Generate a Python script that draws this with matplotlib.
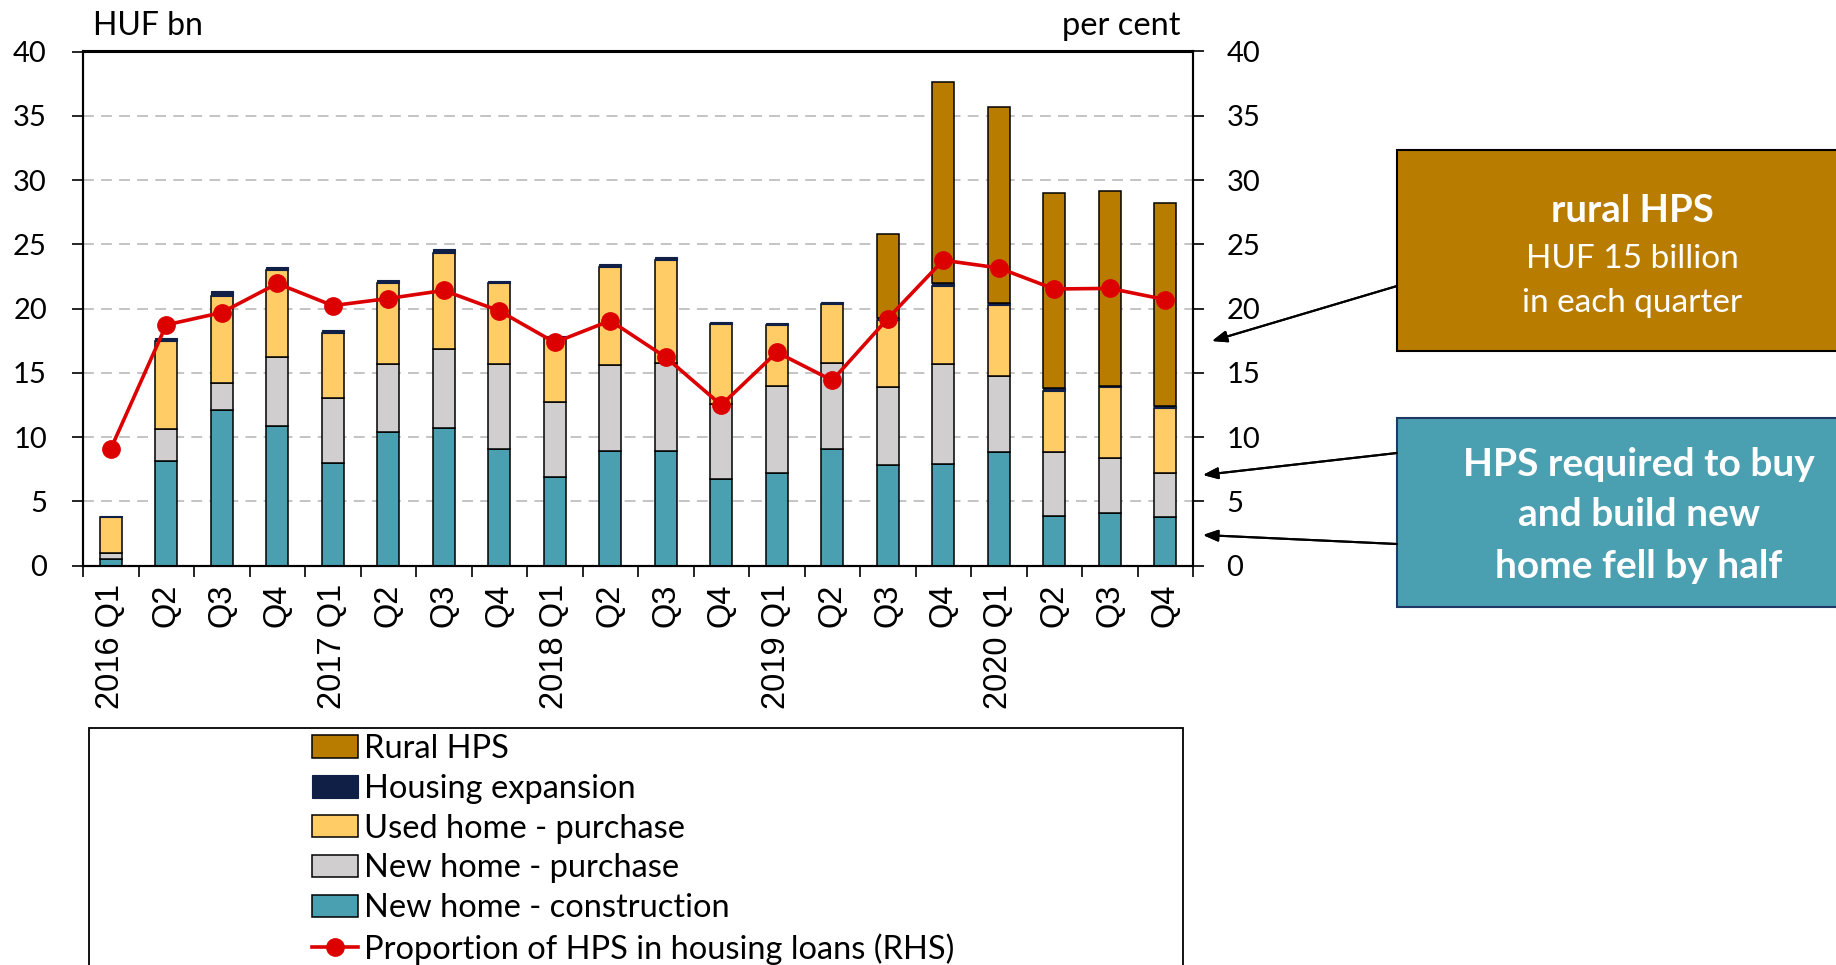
import numpy as np
import matplotlib.pyplot as plt
from matplotlib.patches import Rectangle
from matplotlib.lines import Line2D

plt.rcParams['font.family'] = ['Lato', 'DejaVu Sans']

quarters = ["2016 Q1", "Q2", "Q3", "Q4", "2017 Q1", "Q2", "Q3", "Q4",
            "2018 Q1", "Q2", "Q3", "Q4", "2019 Q1", "Q2", "Q3", "Q4",
            "2020 Q1", "Q2", "Q3", "Q4"]

new_construction = [0.55, 8.15, 12.11, 10.85, 7.98, 10.39, 10.72, 9.10, 6.92, 8.89,
                    8.94, 6.75, 7.19, 9.10, 7.79, 7.87, 8.80, 3.88, 4.07, 3.75]
new_purchase = [0.41, 2.51, 2.11, 5.36, 5.09, 5.28, 6.15, 6.57, 5.79, 6.69,
                6.84, 5.83, 6.81, 6.68, 6.07, 7.85, 5.96, 4.95, 4.32, 3.47]
used_purchase = [2.79, 6.78, 6.78, 6.76, 5.06, 6.28, 7.44, 6.28, 4.98, 7.66,
                 7.98, 6.20, 4.73, 4.59, 5.28, 6.02, 5.50, 4.79, 5.47, 5.08]
housing_expansion = [0.08, 0.25, 0.33, 0.27, 0.19, 0.25, 0.30, 0.20, 0.16, 0.19,
                     0.22, 0.17, 0.11, 0.14, 0.14, 0.21, 0.16, 0.16, 0.14, 0.09]
rural_hps = [0, 0, 0, 0, 0, 0, 0, 0, 0, 0,
             0, 0, 0, 0, 6.50, 15.64, 15.26, 15.20, 15.17, 15.80]
hps_share = [9.08, 18.73, 19.69, 21.95, 20.23, 20.78, 21.41, 19.82, 17.36, 19.06,
             16.21, 12.49, 16.60, 14.41, 19.22, 23.76, 23.16, 21.52, 21.57, 20.70]

C_TEAL = "#4A9FB0"
C_GREY = "#D0CECF"
C_YELLOW = "#FFCC66"
C_NAVY = "#0F1F45"
C_RURAL = "#B87D00"
C_RED = "#DD0000"

W, H = 1836, 965
fig = plt.figure(figsize=(W / 100, H / 100), dpi=100)
ax = fig.add_axes([83 / W, 1 - 565.6 / H, (1193 - 83) / W, (565.6 - 51.5) / H])

x = np.arange(len(quarters))
bw = 0.40
kw = dict(width=bw, edgecolor="black", linewidth=1.1, zorder=3)

b1 = ax.bar(x, new_construction, color=C_TEAL, **kw)
bottom = np.array(new_construction)
b2 = ax.bar(x, new_purchase, bottom=bottom, color=C_GREY, **kw)
bottom = bottom + np.array(new_purchase)
b3 = ax.bar(x, used_purchase, bottom=bottom, color=C_YELLOW, **kw)
bottom = bottom + np.array(used_purchase)
b4 = ax.bar(x, housing_expansion, bottom=bottom, color=C_NAVY, width=bw,
            edgecolor=C_NAVY, linewidth=0.8, zorder=3)
bottom = bottom + np.array(housing_expansion)
rural = np.array(rural_hps)
m = rural > 0
b5 = ax.bar(x[m], rural[m], bottom=bottom[m], color=C_RURAL, **kw)

ax.set_xlim(-0.5, len(quarters) - 0.5)
ax.set_ylim(0, 40)
ax.set_yticks(range(0, 41, 5))
ax.yaxis.grid(True, color="#BFBFBF", linestyle=(0, (6, 4)), linewidth=1.3, zorder=0)
ax.set_axisbelow(True)

ax.set_xticks(x)
ax.set_xticklabels(quarters, rotation=90, fontsize=23.5, family="Liberation Sans")
ax.set_xticks(np.arange(-0.5, len(quarters)), minor=True)
ax.tick_params(axis="x", which="major", length=0, pad=13)
ax.tick_params(axis="x", which="minor", length=8, width=1.2, direction="out")
ax.tick_params(axis="y", labelsize=21, length=8, width=1.2, direction="out", pad=18)
for s in ax.spines.values():
    s.set_linewidth(1.5)

ax2 = ax.twinx()
ax2.set_ylim(0, 40)
ax2.set_yticks(range(0, 41, 5))
ax2.tick_params(axis="y", labelsize=21, length=8, width=1.2, direction="out", pad=16)
ln, = ax2.plot(x, hps_share, color=C_RED, linewidth=2.6, marker="o",
               markersize=12.5, zorder=5)
for s in ax2.spines.values():
    s.set_linewidth(1.5)

fig.text(93 / W, 1 - 26 / H, "HUF bn", fontsize=23, va="center", ha="left")
fig.text(1181 / W, 1 - 26 / H, "per cent", fontsize=23.5, va="center", ha="right")

# legend with its own frame that runs past the bottom edge
fig.patches.append(Rectangle((89 / W, -0.05), (1183 - 89) / W, 0.05 + 1 - 728 / H,
                             transform=fig.transFigure, facecolor="white",
                             edgecolor="black", linewidth=1.3, zorder=1))
handles = [b5, b4, b3, b2, b1,
           Line2D([], [], color=C_RED, linewidth=2.6, marker="o", markersize=12.5)]
labels = ["Rural HPS", "Housing expansion", "Used home - purchase",
          "New home - purchase", "New home - construction",
          "Proportion of HPS in housing loans (RHS)"]
leg = fig.legend(handles, labels, loc="upper left", bbox_to_anchor=(312 / W, 1 - 734 / H),
                 frameon=False, fontsize=23.5, borderpad=0, borderaxespad=0,
                 handlelength=1.4, handleheight=0.68, handletextpad=0.2,
                 labelspacing=0.3)
leg.set_zorder(2)

# annotation boxes
fig.patches.append(Rectangle((1397 / W, 1 - 351 / H), (1845 - 1397) / W, (351 - 150) / H,
                             transform=fig.transFigure, facecolor=C_RURAL,
                             edgecolor="black", linewidth=1.5))
fig.patches.append(Rectangle((1397 / W, 1 - 607 / H), (1845 - 1397) / W, (607 - 418) / H,
                             transform=fig.transFigure, facecolor=C_TEAL,
                             edgecolor="#1F3864", linewidth=1.5))
fig.text(1632 / W, 1 - 211 / H, "rural HPS", color="white", fontsize=27.5,
         fontweight="bold", ha="center", va="center")
fig.text(1632 / W, 1 - 259 / H, "HUF 15 billion", color="white", fontsize=24,
         ha="center", va="center")
fig.text(1632 / W, 1 - 303 / H, "in each quarter", color="white", fontsize=24,
         ha="center", va="center")
for yy, t in [(464, "HPS required to buy"), (514, "and build new"), (566, "home fell by half")]:
    fig.text(1639 / W, 1 - yy / H, t, color="white", fontsize=28, fontweight="bold",
             ha="center", va="center")

arrows = [((1397, 286), (1212, 341)), ((1397, 453), (1203, 475)), ((1397, 544), (1203, 535))]
for (x0, y0), (x1, y1) in arrows:
    fig.add_artist(plt.annotate("", xy=(x1 / W, 1 - y1 / H), xycoords="figure fraction",
                                xytext=(x0 / W, 1 - y0 / H), textcoords="figure fraction",
                                arrowprops=dict(arrowstyle="-|>,head_length=0.9,head_width=0.35",
                                                color="black", lw=1.5, shrinkA=0, shrinkB=0)))

fig.savefig("out.png", dpi=100)
